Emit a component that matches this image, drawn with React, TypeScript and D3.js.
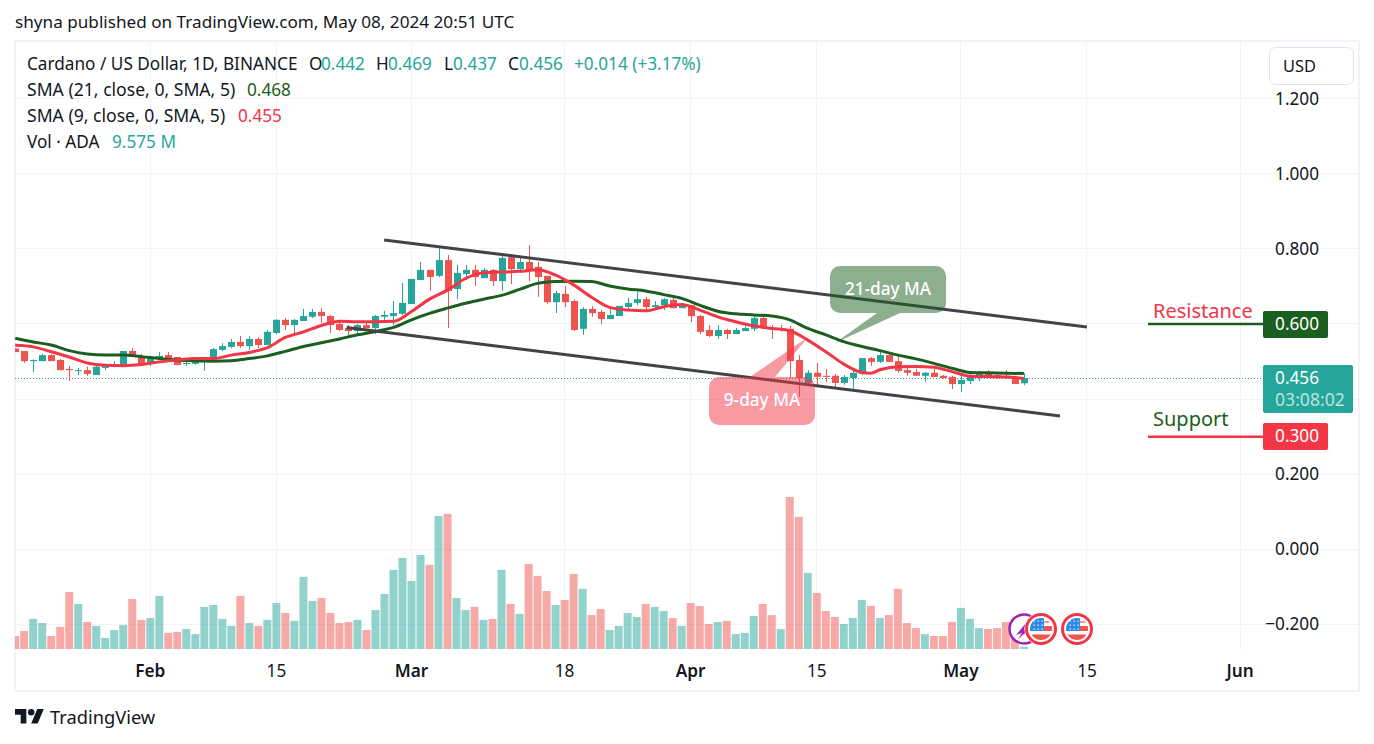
import React from "react";
import * as d3 from "d3";

// Daily bars from Jan 17 2024 through May 8 2024
const opens = [.535,.528,.501,.501,.517,.504,.480,.475,.477,.464,.483,.486,.488,.528,.515,.496,.507,.517,.512,.494,.494,.499,.501,.531,.539,.552,.541,.560,.544,.576,.611,.597,.608,.619,.632,.621,.600,.589,.581,.597,.589,.619,.621,.627,.653,.717,.744,.728,.770,.693,.733,.744,.722,.744,.714,.778,.746,.765,.752,.728,.658,.680,.661,.587,.640,.632,.613,.621,.645,.656,.666,.645,.650,.664,.642,.650,.621,.584,.568,.584,.573,.581,.587,.616,.589,.587,.587,.504,.443,.470,.462,.462,.443,.456,.467,.509,.499,.517,.501,.477,.472,.462,.470,.462,.459,.440,.448,.456,.470,.464,.462,.456,.442];
const highs = [.535,.528,.506,.520,.520,.507,.488,.483,.486,.491,.494,.501,.528,.536,.520,.512,.525,.525,.512,.507,.504,.504,.536,.549,.560,.568,.568,.565,.584,.613,.616,.613,.640,.640,.642,.624,.608,.597,.600,.605,.624,.635,.661,.709,.720,.765,.744,.802,.784,.757,.757,.757,.749,.746,.789,.784,.776,.810,.765,.728,.688,.701,.666,.645,.648,.637,.640,.648,.669,.685,.672,.661,.669,.669,.656,.650,.624,.597,.597,.587,.589,.597,.619,.624,.597,.597,.595,.517,.477,.496,.480,.467,.464,.480,.509,.512,.528,.523,.512,.483,.480,.472,.480,.464,.462,.462,.472,.475,.477,.470,.477,.462,.469];
const lows = [.525,.496,.472,.501,.501,.477,.448,.464,.462,.464,.477,.486,.486,.512,.491,.488,.504,.507,.491,.488,.491,.475,.501,.528,.536,.536,.531,.536,.544,.573,.584,.571,.608,.616,.603,.576,.581,.568,.571,.581,.573,.611,.597,.624,.653,.717,.688,.725,.589,.666,.717,.701,.722,.701,.688,.706,.736,.714,.672,.653,.629,.645,.581,.571,.619,.600,.613,.621,.637,.650,.637,.637,.637,.642,.642,.605,.573,.565,.560,.560,.573,.581,.581,.587,.560,.579,.456,.406,.435,.435,.446,.430,.438,.427,.464,.488,.496,.499,.470,.462,.462,.446,.459,.454,.427,.419,.440,.448,.456,.454,.454,.440,.437];
const closes = [.525,.501,.504,.517,.501,.477,.477,.477,.467,.486,.491,.491,.528,.512,.494,.509,.515,.507,.491,.496,.499,.504,.533,.541,.552,.541,.560,.544,.579,.611,.597,.611,.621,.632,.621,.597,.584,.581,.597,.589,.621,.624,.629,.656,.720,.744,.725,.770,.688,.736,.744,.725,.744,.714,.776,.746,.765,.741,.725,.658,.682,.658,.584,.640,.629,.613,.624,.648,.656,.666,.645,.650,.666,.642,.650,.621,.579,.568,.584,.573,.584,.589,.616,.589,.587,.589,.501,.456,.470,.459,.459,.443,.459,.470,.509,.499,.517,.499,.475,.470,.462,.470,.459,.456,.440,.451,.459,.470,.459,.456,.456,.440,.456];
const volumesM = [54,75,125,108,54,92,237,187,112,96,46,79,100,208,121,129,221,67,71,83,62,175,183,125,96,221,108,96,121,191,150,117,300,200,212,150,108,112,121,79,162,229,329,379,283,391,350,553,562,212,162,175,121,125,329,187,146,354,304,241,183,204,312,250,141,166,79,96,150,133,187,175,158,129,96,191,179,104,112,117,62,67,137,187,141,83,632,549,316,233,158,133,104,129,204,179,129,141,250,108,87,62,54,54,112,171,125,87,83,87,112,93,9.575];

// Moving averages sampled at these day offsets from Feb 1
const sma21Days = [-15,-13,-11,-9,-7,-5,-3,-1,1,3,5,7,9,11,13,15,17,19,21,23,25,27,29,31,33,35,37,39,41,43,45,47,49,51,53,55,57,59,61,63,65,67,69,71,73,75,77,79,81,83,85,87,89,91,93,95,97];
const sma21 = [.562,.552,.544,.529,.520,.517,.517,.513,.508,.504,.502,.501,.502,.508,.515,.527,.540,.550,.560,.571,.580,.591,.611,.628,.642,.655,.666,.676,.692,.708,.713,.714,.713,.701,.693,.688,.678,.668,.650,.634,.627,.624,.621,.611,.588,.571,.553,.540,.529,.517,.507,.495,.482,.471,.470,.469,.468];
const sma9Days = [-15,-13,-11,-9,-7,-5,-3,-1,1,3,5,7,9,11,13,15,17,19,21,23,25,27,29,31,33,35,37,39,41,43,45,47,49,51,53,55,57,59,61,63,65,67,69,71,73,75,77,79,80,81,83,85,87,89,91,93,95,97];
const sma9 = [.543,.539,.526,.512,.496,.490,.489,.492,.499,.504,.508,.508,.517,.524,.537,.564,.579,.596,.607,.606,.606,.607,.633,.666,.690,.721,.736,.738,.740,.744,.730,.704,.671,.644,.637,.635,.646,.652,.637,.619,.606,.595,.588,.582,.557,.526,.493,.471,.469,.478,.486,.487,.485,.473,.461,.460,.459,.455];

const priceTicks = [1.2,1.0,0.8,0.6,0.4,0.2,0,-0.2];
const timeTicks = [
  { label: "Feb", date: "2024-02-01" },
  { label: "15", date: "2024-02-15" },
  { label: "Mar", date: "2024-03-01" },
  { label: "18", date: "2024-03-18" },
  { label: "Apr", date: "2024-04-01" },
  { label: "15", date: "2024-04-15" },
  { label: "May", date: "2024-05-01" },
  { label: "15", date: "2024-05-15" },
  { label: "Jun", date: "2024-06-01" },
];
// Channel lines as [day offset, price]
const upperChannel = [[25.96,.8235],[104,.592]];
const lowerChannel = [[21.8,.5905],[101,.355]];
const lastPrice = 0.456;
const resistance = 0.6;
const support = 0.3;

const FONT = "'Noto Sans', sans-serif";
const UP = "#26a69a", DOWN = "#ef5350", DARK = "#131722";
const GREEN = "#1b5e20", RED = "#f23645", GRID = "#f0f3fa";

const L = 15, R = 1359, T = 41, B = 691, PANE_B = 650;

const base = +new Date("2024-02-01");
const x = d3.scaleUtc().domain([new Date(base), new Date("2024-06-01")]).range([150.3, 1240.1]);
const y = d3.scaleLinear().domain([0, 1.2]).range([549.3, 98.6]);
const yVol = d3.scaleLinear().domain([0, 632]).range([649, 497]);
const dayX = (offset) => x(new Date(base + offset * 864e5));
const crisp = (v) => Math.floor(v) + 0.5;
const line = (days, vals) => d3.line().x((_, i) => dayX(days[i])).y((d) => y(d)).curve(d3.curveMonotoneX)(vals);

const flagDots = [-8, -4, 0];

function Flag({ cx, cy }) {
  return (
    <g transform={`translate(${cx},${cy})`}>
      <circle r={16.5} fill="#fff" />
      <circle r={14.5} fill="#fff" stroke={RED} strokeWidth={3} />
      <clipPath id={`f${cx}`}><circle r={11} /></clipPath>
      <g clipPath={`url(#f${cx})`}>
        <rect x={-11} y={-11} width={22} height={22} fill="#fff" />
        <rect x={3} y={-8} width={9} height={2} fill={DOWN} fillOpacity={0.6} />
        <rect x={3} y={-3} width={9} height={5} fill={DOWN} />
        <rect x={-11} y={5.5} width={22} height={6} fill={DOWN} />
        <rect x={-11} y={-11} width={14} height={13} fill="#2d8be6" />
        {flagDots.map((dy) => flagDots.map((dx) => (
          <rect key={`${dx}${dy}`} x={dx - 0.5 + 1} y={dy - 0.5} width={1.4} height={1.4} fill="#cfe4fb" />
        )))}
      </g>
    </g>
  );
}

export default function App() {
  React.useEffect(() => { document.body.style.margin = "0"; }, []);
  const start = new Date("2024-01-17");
  const bars = closes.map((c, i) => ({ date: d3.utcDay.offset(start, i), o: opens[i], h: highs[i], l: lows[i], c, v: volumesM[i] }));
  const T1 = { fontFamily: FONT, fontSize: 17.2, fill: DARK };
  return (
    <svg width={1374} height={744} style={{ position: "absolute", left: 0, top: 0, background: "#fff" }}>
      <defs><clipPath id="pane"><rect x={L} y={T} width={R - L} height={PANE_B - T} /></clipPath></defs>
      <text x={15} y={28} fontFamily={FONT} fontSize={17.15} fill={DARK}>shyna published on TradingView.com, May 08, 2024 20:51 UTC</text>
      <rect x={L} y={T} width={R - L} height={B - T} fill="none" stroke={GRID} strokeWidth={2} />

      {priceTicks.map((p) => <line key={p} x1={L} x2={R} y1={crisp(y(p))} y2={crisp(y(p))} stroke={GRID} strokeWidth={1} />)}
      {timeTicks.map((t) => <line key={t.date} x1={crisp(x(new Date(t.date)))} x2={crisp(x(new Date(t.date)))} y1={T} y2={PANE_B} stroke={GRID} strokeWidth={1} />)}

      <g clipPath="url(#pane)">
        {bars.map((b) => (
          <rect key={+b.date} x={x(b.date) - 4} width={8} y={yVol(b.v)} height={649 - yVol(b.v)} fill={b.c >= b.o ? UP : DOWN} fillOpacity={0.5} />
        ))}
        <line x1={L} x2={1261} y1={crisp(y(lastPrice))} y2={crisp(y(lastPrice))} stroke={UP} strokeWidth={1} strokeDasharray="1 2" />
        {bars.map((b) => {
          const col = b.c >= b.o ? UP : DOWN;
          const cx = Math.round(x(b.date));
          const top = y(Math.max(b.o, b.c)), bot = y(Math.min(b.o, b.c));
          return (
            <g key={+b.date}>
              <line x1={cx + 0.5} x2={cx + 0.5} y1={y(b.h)} y2={y(b.l)} stroke={col} strokeWidth={1} />
              <rect x={cx - 3} width={7} y={top} height={Math.max(1, bot - top)} fill={col} />
            </g>
          );
        })}
        <path d={line(sma21Days, sma21)} fill="none" stroke={GREEN} strokeWidth={3} />
        <path d={line(sma9Days, sma9)} fill="none" stroke={RED} strokeWidth={3} />
      </g>

      {[upperChannel, lowerChannel].map((c, i) => (
        <line key={i} x1={dayX(c[0][0])} y1={y(c[0][1])} x2={dayX(c[1][0])} y2={y(c[1][1])} stroke="#434247" strokeWidth={3} />
      ))}

      <path d="M840,266 H936 a10,10 0 0 1 10,10 V303 a10,10 0 0 1 -10,10 H900 L835,343 L877,313 H840 a10,10 0 0 1 -10,-10 V276 a10,10 0 0 1 10,-10 Z" fill={GREEN} fillOpacity={0.5} />
      <text x={888} y={295} textAnchor="middle" fontFamily={FONT} fontSize={17.2} fontWeight={500} fill="#fff">21-day MA</text>
      <path d="M719,377 H750 L808,337 L775,377 H805 a10,10 0 0 1 10,10 V415 a10,10 0 0 1 -10,10 H719 a10,10 0 0 1 -10,-10 V387 a10,10 0 0 1 10,-10 Z" fill={RED} fillOpacity={0.5} />
      <text x={762} y={406} textAnchor="middle" fontFamily={FONT} fontSize={17.2} fontWeight={500} fill="#fff">9-day MA</text>

      <g>
        <circle cx={1024} cy={629} r={14.5} fill="#fff" stroke="#9c27b0" strokeWidth={2.5} />
        <path d="M1026,623 L1016,635 L1022,633 L1018,639 L1030,629 L1024,630 Z" fill="#9c27b0" />
        <Flag cx={1041} cy={629} />
        <Flag cx={1077} cy={629} />
      </g>

      <text x={1153} y={318} fontFamily={FONT} fontSize={20} fill={RED}>Resistance</text>
      <line x1={1148} x2={1264} y1={y(resistance)} y2={y(resistance)} stroke={GREEN} strokeWidth={2.5} />
      <text x={1153} y={426} fontFamily={FONT} fontSize={20} fill={GREEN}>Support</text>
      <line x1={1148} x2={1264} y1={y(support)} y2={y(support)} stroke={RED} strokeWidth={2.5} />

      {priceTicks.map((p) => (
        (p === 0.6 || p === 0.4) ? null :
        <text key={p} x={1319} y={y(p) + 6} textAnchor="end" {...T1}>{p < 0 ? "\u2212" : ""}{Math.abs(p).toFixed(3)}</text>
      ))}
      <rect x={1263} y={311} width={65} height={27} rx={2} fill={GREEN} />
      <text x={1319} y={330} textAnchor="end" {...T1} fill="#fff">0.600</text>
      <rect x={1263} y={365} width={90} height={48} rx={2} fill={UP} />
      <text x={1319} y={384} textAnchor="end" {...T1} fill="#fff">0.456</text>
      <text x={1275} y={406} {...T1} fontSize={17.6} fill="#fff" fillOpacity={0.7}>03:08:02</text>
      <rect x={1263} y={423} width={65} height={27} rx={2} fill={RED} />
      <text x={1319} y={442} textAnchor="end" {...T1} fill="#fff">0.300</text>

      <rect x={1269.5} y={47.5} width={84} height={37} rx={6} fill="#fff" stroke="#e0e3eb" />
      <text x={1283} y={71.5} {...T1} fontSize={16.4}>USD</text>

      {timeTicks.map((t) => (
        <text key={t.date + "l"} x={x(new Date(t.date))} y={677} textAnchor="middle" {...T1} fontWeight={t.label.length > 2 ? 600 : 400}>{t.label}</text>
      ))}

      <text y={70} {...T1}>
        <tspan x={27}>Cardano / US Dollar, 1D, BINANCE</tspan>
        <tspan x={309}>O</tspan><tspan x={321} fill={UP}>0.442</tspan>
        <tspan x={376}>H</tspan><tspan x={388} fill={UP}>0.469</tspan>
        <tspan x={444}>L</tspan><tspan x={453} fill={UP}>0.437</tspan>
        <tspan x={508}>C</tspan><tspan x={519} fill={UP}>0.456</tspan>
        <tspan x={574} fill={UP}>+0.014 (+3.17%)</tspan>
      </text>
      <text y={96} {...T1}><tspan x={27} fontSize={17.6}>SMA (21, close, 0, SMA, 5)</tspan><tspan x={247} fill={GREEN}>0.468</tspan></text>
      <text y={122} {...T1}><tspan x={27} fontSize={17.6}>SMA (9, close, 0, SMA, 5)</tspan><tspan x={238} fill={RED}>0.455</tspan></text>
      <text y={148} {...T1}><tspan x={27}>Vol · ADA</tspan><tspan x={112} fill={UP}>9.575 M</tspan></text>

      <g transform="translate(15,705.8) scale(0.81)" fill={DARK}>
        <path d="M14 22H7V11H0V4h14v18zM28 22h-8l7.5-18h8L28 22z" />
        <circle cx={20} cy={8} r={4} />
      </g>
      <text x={50} y={724} fontFamily={FONT} fontSize={18.3} fill={DARK}>TradingView</text>
    </svg>
  );
}
